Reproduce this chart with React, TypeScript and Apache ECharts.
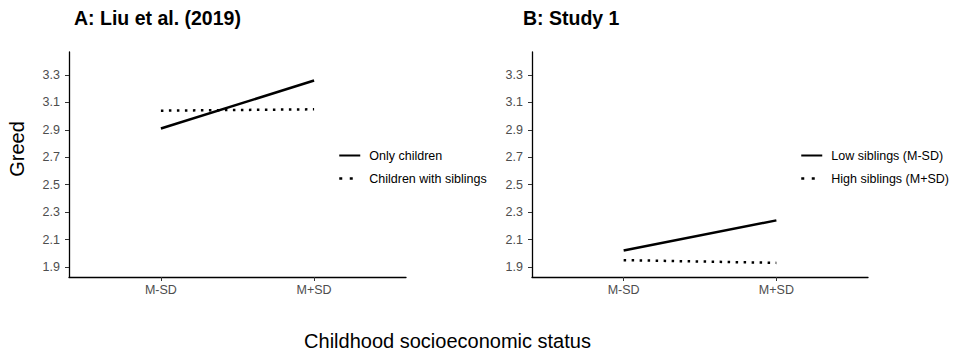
import React, { useEffect, useRef } from "react";
import * as echarts from "echarts";

const categories = ["M-SD", "M+SD"];
const yTicks = [1.9, 2.1, 2.3, 2.5, 2.7, 2.9, 3.1, 3.3];

const panelATitle = "A: Liu et al. (2019)";
const panelBTitle = "B: Study 1";
const yTitle = "Greed";
const xTitle = "Childhood socioeconomic status";

const onlyChildren = [2.91, 3.26];
const childrenWithSiblings = [3.04, 3.05];
const lowSiblings = [2.02, 2.24];
const highSiblings = [1.95, 1.93];

const seriesNamesA = ["Only children", "Children with siblings"];
const seriesNamesB = ["Low siblings (M-SD)", "High siblings (M+SD)"];

const FONT = "Liberation Sans, Arial, sans-serif";

export default function App() {
  const ref = useRef<HTMLDivElement>(null);

  useEffect(() => {
    if (!ref.current) return;
    const chart = echarts.init(ref.current, null, { renderer: "svg" });

    const xAxisBase = (gridIndex: number) => ({
      type: "value",
      gridIndex,
      min: 0.4,
      max: 2.6,
      splitLine: { show: false },
      axisLine: { show: true, lineStyle: { color: "#000", width: 1.3 } },
      axisTick: { show: true, customValues: [1, 2], length: 4, lineStyle: { color: "#333" } },
      axisLabel: {
        customValues: [1, 2],
        formatter: (v: number) => categories[Math.round(v) - 1] ?? "",
        color: "#4d4d4d",
        fontSize: 12.5,
        fontFamily: FONT,
        margin: 6,
      },
    });

    const yAxisBase = (gridIndex: number) => ({
      type: "value",
      gridIndex,
      min: 1.827,
      max: 3.468,
      splitLine: { show: false },
      axisLine: { show: true, lineStyle: { color: "#000", width: 1.3 } },
      axisTick: { show: true, customValues: yTicks, length: 4, lineStyle: { color: "#333" } },
      axisLabel: {
        customValues: yTicks,
        formatter: (v: number) => v.toFixed(1),
        color: "#4d4d4d",
        fontSize: 12.5,
        fontFamily: FONT,
        margin: 9,
      },
    });

    const mk = (name: string, vals: number[], idx: number, dotted: boolean) => ({
      type: "line",
      name,
      xAxisIndex: idx,
      yAxisIndex: idx,
      data: vals.map((v, i) => [i + 1, v]),
      symbol: "none",
      lineStyle: {
        color: "#000",
        width: 2.5,
        type: dotted ? [2.5, 5.5] : "solid",
        cap: "butt",
      },
      itemStyle: { color: "#000" },
    });

    const legendBase = {
      orient: "vertical",
      top: 149,
      itemWidth: 21,
      itemHeight: 10,
      itemGap: 10,
      padding: 0,
      itemStyle: { opacity: 0 },
      textStyle: { fontSize: 12.5, color: "#000", fontFamily: FONT, padding: [0, 0, 0, 4] },
    };

    const legendData = (names: string[]) => [
      { name: names[0] },
      { name: names[1], lineStyle: { type: [3, 7.5], width: 2.5, color: "#000" } },
    ];

    chart.setOption({
      animation: false,
      backgroundColor: "#fff",
      textStyle: { fontFamily: FONT },
      title: [
        {
          text: panelATitle,
          left: 69,
          top: 3,
          textStyle: { fontSize: 19.5, fontWeight: "bold", color: "#000", fontFamily: FONT },
        },
        {
          text: panelBTitle,
          left: 518,
          top: 3,
          textStyle: { fontSize: 19.5, fontWeight: "bold", color: "#000", fontFamily: FONT },
        },
      ],
      grid: [
        { left: 69, top: 52, width: 337, height: 225 },
        { left: 532, top: 52, width: 336, height: 225 },
      ],
      xAxis: [xAxisBase(0), xAxisBase(1)],
      yAxis: [yAxisBase(0), yAxisBase(1)],
      legend: [
        { ...legendBase, data: legendData(seriesNamesA), left: 338 },
        { ...legendBase, data: legendData(seriesNamesB), left: 800 },
      ],
      graphic: [
        {
          type: "text",
          x: 447.5,
          y: 341,
          style: {
            text: xTitle,
            fontSize: 20,
            fontFamily: FONT,
            fill: "#000",
            textAlign: "center",
            textVerticalAlign: "middle",
          },
        },
        {
          type: "text",
          x: 17,
          y: 149,
          rotation: Math.PI / 2,
          style: {
            text: yTitle,
            fontSize: 20,
            fontFamily: FONT,
            fill: "#000",
            textAlign: "center",
            textVerticalAlign: "middle",
          },
        },
      ],
      series: [
        mk(seriesNamesA[0], onlyChildren, 0, false),
        mk(seriesNamesA[1], childrenWithSiblings, 0, true),
        mk(seriesNamesB[0], lowSiblings, 1, false),
        mk(seriesNamesB[1], highSiblings, 1, true),
      ],
    });

    return () => chart.dispose();
  }, []);

  return (
    <div
      ref={ref}
      style={{ position: "fixed", left: 0, top: 0, width: 954, height: 352 }}
    />
  );
}
